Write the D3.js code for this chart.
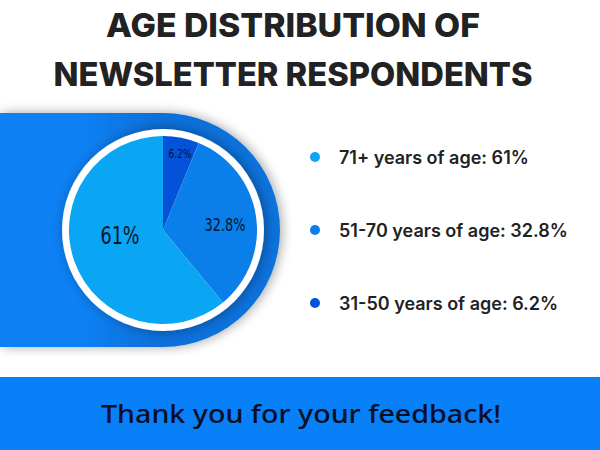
<html>
<head>
    <title>Age distribution of newsletter respondents</title>
    <script src="https://cdn.jsdelivr.net/npm/d3@7/dist/d3.min.js" charset="utf-8"></script>
    <style>
        body { margin: 0; background: #fff; }
    </style>
</head>
<body>
<script>

    const width = 600;
    const height = 450;

    // data
    const categories = ["71+ years of age", "51-70 years of age", "31-50 years of age"];
    const values = [61, 32.8, 6.2];
    const sliceLabels = ["61%", "32.8%", "6.2%"];
    const colors = ["#0aa6f3", "#0a7fe9", "#0352d8"];
    const titleLines = ["AGE DISTRIBUTION OF", "NEWSLETTER RESPONDENTS"];
    const footerText = "Thank you for your feedback!";

    const cx = 163, cy = 230;
    const pieR = 94;

    const svg = d3.select("body").append("svg")
        .attr("width", width)
        .attr("height", height);

    const defs = svg.append("defs");

    const shadow = defs.append("filter").attr("id", "shadow")
        .attr("x", "-30%").attr("y", "-30%").attr("width", "160%").attr("height", "160%");
    shadow.append("feGaussianBlur").attr("in", "SourceAlpha").attr("stdDeviation", 6);
    shadow.append("feOffset").attr("dx", 2).attr("dy", 0).attr("result", "b");
    shadow.append("feComponentTransfer").append("feFuncA").attr("type", "linear").attr("slope", 0.35);
    const merge = shadow.append("feMerge");
    merge.append("feMergeNode");
    merge.append("feMergeNode").attr("in", "SourceGraphic");

    const grad = defs.append("linearGradient").attr("id", "band")
        .attr("x1", "0").attr("x2", "1").attr("y1", "0").attr("y2", "0");
    grad.append("stop").attr("offset", "0%").attr("stop-color", "#0a80f3");
    grad.append("stop").attr("offset", "30%").attr("stop-color", "#0a80f3");
    grad.append("stop").attr("offset", "55%").attr("stop-color", "#0a70da");
    grad.append("stop").attr("offset", "100%").attr("stop-color", "#0b72dc");

    // title
    const titleWidths = [374, 479];
    svg.append("g").selectAll("text")
        .data(titleLines)
        .join("text")
        .attr("x", 293)
        .attr("y", (d, i) => 37 + i * 49)
        .attr("text-anchor", "middle")
        .attr("font-family", "Inter, 'Open Sans', sans-serif")
        .attr("font-weight", 800)
        .attr("font-size", 33)
        .attr("textLength", (d, i) => titleWidths[i])
        .attr("lengthAdjust", "spacingAndGlyphs")
        .attr("fill", "#222")
        .text(d => d);

    // blue band with rounded end
    const bandR = 117;
    const bandPath = d3.path();
    bandPath.moveTo(0, cy - bandR);
    bandPath.lineTo(cx, cy - bandR);
    bandPath.arc(cx, cy, bandR, -Math.PI / 2, Math.PI / 2);
    bandPath.lineTo(0, cy + bandR);
    bandPath.closePath();
    svg.append("path")
        .attr("d", bandPath.toString())
        .attr("fill", "url(#band)")
        .attr("filter", "url(#shadow)");

    // white ring
    svg.append("circle")
        .attr("cx", cx).attr("cy", cy).attr("r", 101)
        .attr("fill", "#fff")
        .attr("filter", "url(#shadow)");

    // pie: start with smallest slice at 12 o'clock, clockwise
    const order = [2, 1, 0];
    const pie = d3.pie().sort(null).value(i => values[i]);
    const arcs = pie(order);
    const arc = d3.arc().innerRadius(0).outerRadius(pieR);

    const g = svg.append("g").attr("transform", `translate(${cx},${cy})`);
    g.selectAll("path")
        .data(arcs)
        .join("path")
        .attr("fill", d => colors[d.data])
        .attr("d", arc);

    // [dx, dy, font size, text width] — narrow label face
    const labelPos = {0: [-43, 7, 25, 39], 1: [62, -4, 18, 41], 2: [17, -76, 13, 23]};
    g.selectAll("text")
        .data(arcs)
        .join("text")
        .attr("x", d => labelPos[d.data][0])
        .attr("y", d => labelPos[d.data][1])
        .attr("text-anchor", "middle")
        .attr("dominant-baseline", "middle")
        .attr("font-family", "'DejaVu Sans', sans-serif")
        .attr("font-size", d => labelPos[d.data][2])
        .attr("textLength", d => labelPos[d.data][3])
        .attr("lengthAdjust", "spacingAndGlyphs")
        .attr("fill", "#08142e")
        .text(d => sliceLabels[d.data]);

    // legend
    const y = d3.scalePoint().domain(categories).range([157, 303]);
    const legend = svg.append("g").selectAll("g")
        .data(categories)
        .join("g")
        .attr("transform", d => `translate(0,${y(d)})`);
    legend.append("circle")
        .attr("cx", 315).attr("cy", 0).attr("r", 5)
        .attr("fill", (d, i) => colors[i]);
    legend.append("text")
        .attr("x", 339)
        .attr("y", 0)
        .attr("dominant-baseline", "central")
        .attr("font-family", "Inter, 'Open Sans', sans-serif")
        .attr("font-weight", 600)
        .attr("font-size", 18)
        .attr("fill", "#222")
        .text((d, i) => `${d}: ${values[i]}%`);

    // footer
    svg.append("rect")
        .attr("x", 0).attr("y", 377)
        .attr("width", width).attr("height", height - 377)
        .attr("fill", "#0780f8");
    svg.append("text")
        .attr("x", 301)
        .attr("y", 423)
        .attr("text-anchor", "middle")
        .attr("font-family", "'Noto Sans', sans-serif")
        .attr("font-weight", 500)
        .attr("font-size", 25)
        .attr("textLength", 400)
        .attr("lengthAdjust", "spacingAndGlyphs")
        .attr("fill", "#0a0f26")
        .text(footerText);

</script>
</body>
</html>
